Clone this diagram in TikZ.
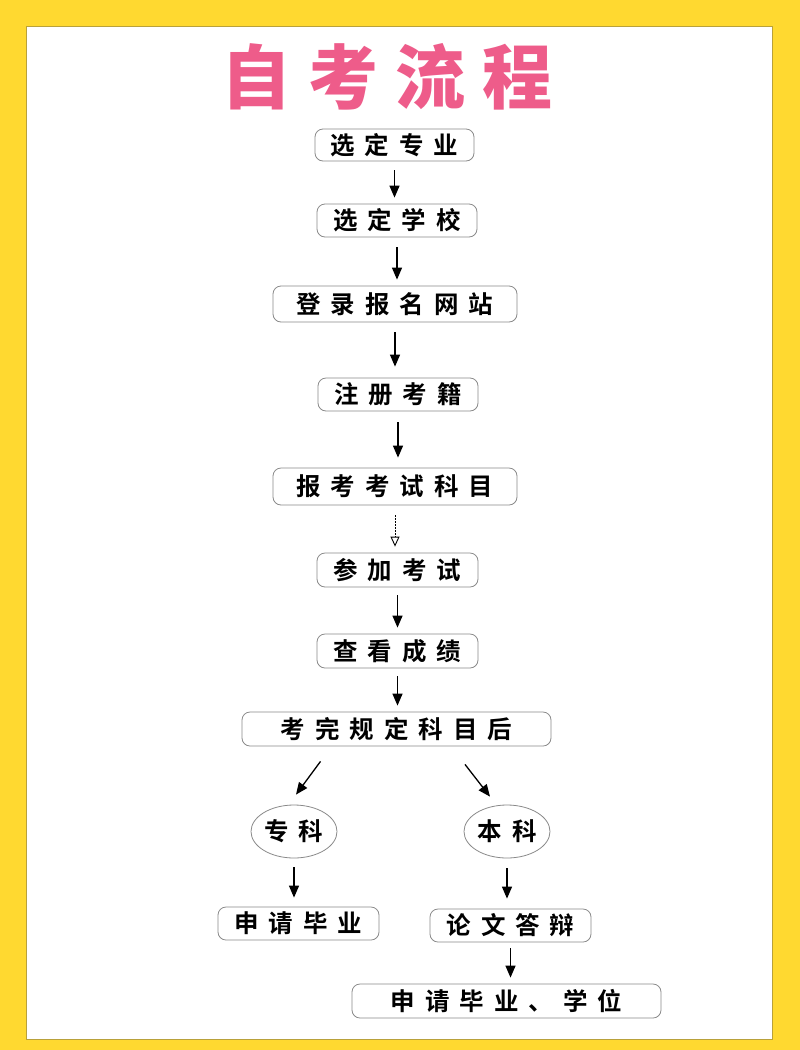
\documentclass[tikz,border=0pt]{standalone}
\usepackage{fontspec}
\usetikzlibrary{arrows.meta,shapes.geometric}
\newfontfamily\cjkb{Noto Sans CJK SC Bold}
\newfontfamily\cjkblack{Noto Sans CJK SC Black}
\newcommand\chsp{\hspace{10pt}}
\newcommand\tsp{\hspace{17pt}}
\definecolor{bgyellow}{HTML}{FFD930}
\definecolor{edgey}{HTML}{B9A13A}
\definecolor{titlepink}{HTML}{EE5C8A}
\definecolor{boxgray}{HTML}{8A8A8A}
\tikzset{
  stepbox/.style={draw=boxgray, line width=0.8pt, rounded corners=8pt, fill=white,
    inner sep=0pt, font=\cjkb\fontsize{24.5}{24.5}\selectfont, text=black},
  ovalbox/.style={ellipse, draw=boxgray, line width=0.8pt, fill=white,
    inner sep=0pt, font=\cjkb\fontsize{24.5}{24.5}\selectfont, text=black},
  arr/.style={draw=black, line width=1.3pt, -{Triangle[length=12pt,width=10pt]}},
  dotarr/.style={draw=black, line width=0.9pt, dash pattern=on 1.5pt off 1.5pt,
    -{Triangle[open, length=10pt,width=9pt]}}
}
\begin{document}
\begin{tikzpicture}[x=1pt,y=-1pt]
\useasboundingbox (0,0) rectangle (800,1050);
\fill[bgyellow] (0,0) rectangle (800,1050);
\filldraw[fill=white, draw=edgey, line width=0.8pt] (26,26) rectangle (772,1039);
\node[text=titlepink, font=\cjkblack\fontsize{70}{70}\selectfont] (title) at (387,77) {自\tsp 考\tsp 流\tsp 程};
\node[stepbox, minimum width=159pt, minimum height=32pt] (b1) at (394.5,145) {选\chsp 定\chsp 专\chsp 业};
\node[stepbox, minimum width=160pt, minimum height=33pt] (b2) at (397,220.5) {选\chsp 定\chsp 学\chsp 校};
\node[stepbox, minimum width=244pt, minimum height=36pt] (b3) at (395,304) {登\chsp 录\chsp 报\chsp 名\chsp 网\chsp 站};
\node[stepbox, minimum width=160pt, minimum height=33pt] (b4) at (398,394.5) {注\chsp 册\chsp 考\chsp 籍};
\node[stepbox, minimum width=244pt, minimum height=37pt] (b5) at (395,486.5) {报\chsp 考\chsp 考\chsp 试\chsp 科\chsp 目};
\node[stepbox, minimum width=161pt, minimum height=34pt] (b6) at (397.5,570) {参\chsp 加\chsp 考\chsp 试};
\node[stepbox, minimum width=161pt, minimum height=34pt] (b7) at (397.5,651) {查\chsp 看\chsp 成\chsp 绩};
\node[stepbox, minimum width=309pt, minimum height=34pt] (b8) at (396.5,729) {考\chsp 完\chsp 规\chsp 定\chsp 科\chsp 目\chsp 后};
\node[ovalbox, minimum width=86pt, minimum height=53pt] (e1) at (294,831.5) {专\chsp 科};
\node[ovalbox, minimum width=86pt, minimum height=53pt] (e2) at (507,831.5) {本\chsp 科};
\node[stepbox, minimum width=161pt, minimum height=33pt] (b9) at (298.5,923.5) {申\chsp 请\chsp 毕\chsp 业};
\node[stepbox, minimum width=161pt, minimum height=33pt] (b10) at (510.5,925.5) {论\chsp 文\chsp 答\chsp 辩};
\node[stepbox, minimum width=309pt, minimum height=34pt] (b11) at (506.5,1001) {申\chsp 请\chsp 毕\chsp 业\chsp 、\chsp 学\chsp 位};
% arrows
\draw[arr, shorten <=9pt, shorten >=6pt] (b1.south) -- (b1.south |- b2.north);
\draw[arr, shorten <=10pt, shorten >=6pt] (b2.south) -- (b2.south |- b3.north);
\draw[arr, shorten <=10pt, shorten >=11pt] (b3.south) -- (b3.south |- b4.north);
\draw[arr, shorten <=11pt, shorten >=10pt] (b4.south) -- (b4.south |- b5.north);
\draw[dotarr, shorten <=10pt, shorten >=6pt] (b5.south) -- (b5.south |- b6.north);
\draw[arr, shorten <=8pt, shorten >=6pt] (b6.south) -- (b6.south |- b7.north);
\draw[arr, shorten <=8pt, shorten >=6pt] (b7.south) -- (b7.south |- b8.north);
\draw[arr] ([xshift=-76pt,yshift=-15pt]b8.south) -- ([xshift=2pt,yshift=10pt]e1.north);
\draw[arr] ([xshift=68.5pt,yshift=-18pt]b8.south) -- ([xshift=-17pt,yshift=8pt]e2.north);
\draw[arr, shorten <=9pt, shorten >=9pt] (e1.south) -- (e1.south |- b9.north);
\draw[arr, shorten <=10pt, shorten >=10pt] (e2.south) -- (e2.south |- b10.north);
\draw[arr, shorten <=6pt, shorten >=6pt] (b10.south) -- (b10.south |- b11.north);
\end{tikzpicture}
\end{document}
